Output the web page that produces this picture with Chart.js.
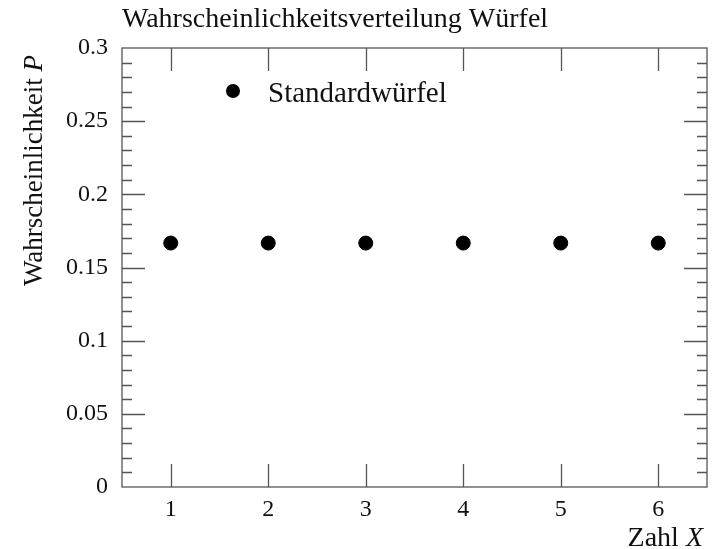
<!DOCTYPE html>
<html>
<head>
<meta charset="utf-8">
<script src="https://cdn.jsdelivr.net/npm/chart.js@4/dist/chart.umd.min.js"></script>
<style>
  html, body { margin: 0; padding: 0; background: #fff; }
  #wrap { width: 715px; height: 549px; }
</style>
</head>
<body>
<div id="wrap"><canvas id="c" width="715" height="549"></canvas></div>
<script>
const chartTitle = 'Wahrscheinlichkeitsverteilung Würfel';
const seriesLabel = 'Standardwürfel';
const xValues = [1, 2, 3, 4, 5, 6];
const pValues = [0.1667, 0.1667, 0.1667, 0.1667, 0.1667, 0.1667];
const xTicks = [1, 2, 3, 4, 5, 6];
const yTicks = [0, 0.05, 0.1, 0.15, 0.2, 0.25, 0.3];
const yTickLabels = ['0', '0.05', '0.1', '0.15', '0.2', '0.25', '0.3'];
const yMinorStep = 0.01;
const yLabelMain = 'Wahrscheinlichkeit ';
const yLabelVar = 'P';
const xLabelMain = 'Zahl ';
const xLabelVar = 'X';

const FONT = '"Liberation Serif", "DejaVu Serif", serif';
const AXIS_COLOR = '#555';

const framePlugin = {
  id: 'frame',
  afterDatasetsDraw(chart) {
    const {ctx, chartArea: a, scales: {x, y}} = chart;
    ctx.save();
    ctx.strokeStyle = AXIS_COLOR;
    ctx.lineWidth = 1.3;
    ctx.strokeRect(a.left, a.top, a.right - a.left, a.bottom - a.top);
    ctx.beginPath();
    xTicks.forEach(v => {
      const px = Math.round(x.getPixelForValue(v)) + 0.5;
      ctx.moveTo(px, a.bottom); ctx.lineTo(px, a.bottom - 23);
      ctx.moveTo(px, a.top); ctx.lineTo(px, a.top + 23);
    });
    const n = Math.round((y.max - y.min) / yMinorStep);
    for (let i = 1; i < n; i++) {
      const v = y.min + i * yMinorStep;
      const major = yTicks.some(t => Math.abs(t - v) < 1e-9);
      const len = major ? 23 : 10;
      const py = Math.round(y.getPixelForValue(v)) + 0.5;
      ctx.moveTo(a.left, py); ctx.lineTo(a.left + len, py);
      ctx.moveTo(a.right, py); ctx.lineTo(a.right - len, py);
    }
    ctx.stroke();
    ctx.restore();
  },
  afterDraw(chart) {
    const {ctx, chartArea: a} = chart;
    ctx.save();
    ctx.fillStyle = '#111';
    // title
    ctx.font = '28px ' + FONT;
    ctx.textBaseline = 'alphabetic';
    ctx.textAlign = 'left';
    ctx.fillText(chartTitle, a.left, 27);
    // legend
    const ds = chart.data.datasets[0];
    ctx.beginPath();
    ctx.arc(233, 91, 7, 0, Math.PI * 2);
    ctx.fillStyle = ds.backgroundColor;
    ctx.fill();
    ctx.fillStyle = '#111';
    ctx.font = '29px ' + FONT;
    ctx.fillText(ds.label, 268, 102);
    // x axis title (right aligned)
    const xs = 28;
    ctx.font = 'italic ' + xs + 'px ' + FONT;
    const wVar = ctx.measureText(xLabelVar).width;
    ctx.font = xs + 'px ' + FONT;
    const wMain = ctx.measureText(xLabelMain).width;
    const xr = a.right - 4;
    ctx.fillText(xLabelMain, xr - wVar - wMain, 546);
    ctx.font = 'italic ' + xs + 'px ' + FONT;
    ctx.fillText(xLabelVar, xr - wVar, 546);
    // y axis title (rotated, aligned to top)
    const ys = 27;
    ctx.translate(42, a.top + 7);
    ctx.rotate(-Math.PI / 2);
    ctx.font = 'italic ' + ys + 'px ' + FONT;
    const yVarW = ctx.measureText(yLabelVar).width;
    ctx.font = ys + 'px ' + FONT;
    const yMainW = ctx.measureText(yLabelMain).width;
    ctx.fillText(yLabelMain, -yVarW - yMainW, 0);
    ctx.font = 'italic ' + ys + 'px ' + FONT;
    ctx.fillText(yLabelVar, -yVarW, 0);
    ctx.restore();
  }
};

new Chart(document.getElementById('c'), {
  type: 'scatter',
  data: {
    datasets: [{
      label: seriesLabel,
      data: xValues.map((v, i) => ({x: v, y: pValues[i]})),
      backgroundColor: '#000',
      borderColor: '#000',
      pointRadius: 7,
      pointHoverRadius: 7
    }]
  },
  options: {
    responsive: false,
    animation: false,
    events: [],
    layout: {padding: {left: 0, right: 8, top: 48, bottom: 0}},
    plugins: {
      legend: {display: false},
      title: {display: false},
      tooltip: {enabled: false}
    },
    scales: {
      x: {
        type: 'linear',
        min: 0.5,
        max: 6.5,
        grid: {display: false, drawTicks: false},
        border: {display: false},
        afterBuildTicks: s => { s.ticks = xTicks.map(v => ({value: v})); },
        afterFit: s => { s.height = 62; },
        ticks: {
          padding: 8,
          color: '#111',
          font: {family: FONT, size: 24},
          maxRotation: 0,
          autoSkip: false,
          callback: v => String(v)
        }
      },
      y: {
        type: 'linear',
        min: 0,
        max: 0.3,
        grid: {display: false, drawTicks: false},
        border: {display: false},
        afterBuildTicks: s => { s.ticks = yTicks.map(v => ({value: v})); },
        afterFit: s => { s.width = 122; },
        ticks: {
          padding: 14,
          color: '#111',
          font: {family: FONT, size: 24},
          autoSkip: false,
          callback: (v, i) => yTickLabels[yTicks.findIndex(t => Math.abs(t - v) < 1e-9)]
        }
      }
    }
  },
  plugins: [framePlugin]
});
</script>
</body>
</html>
